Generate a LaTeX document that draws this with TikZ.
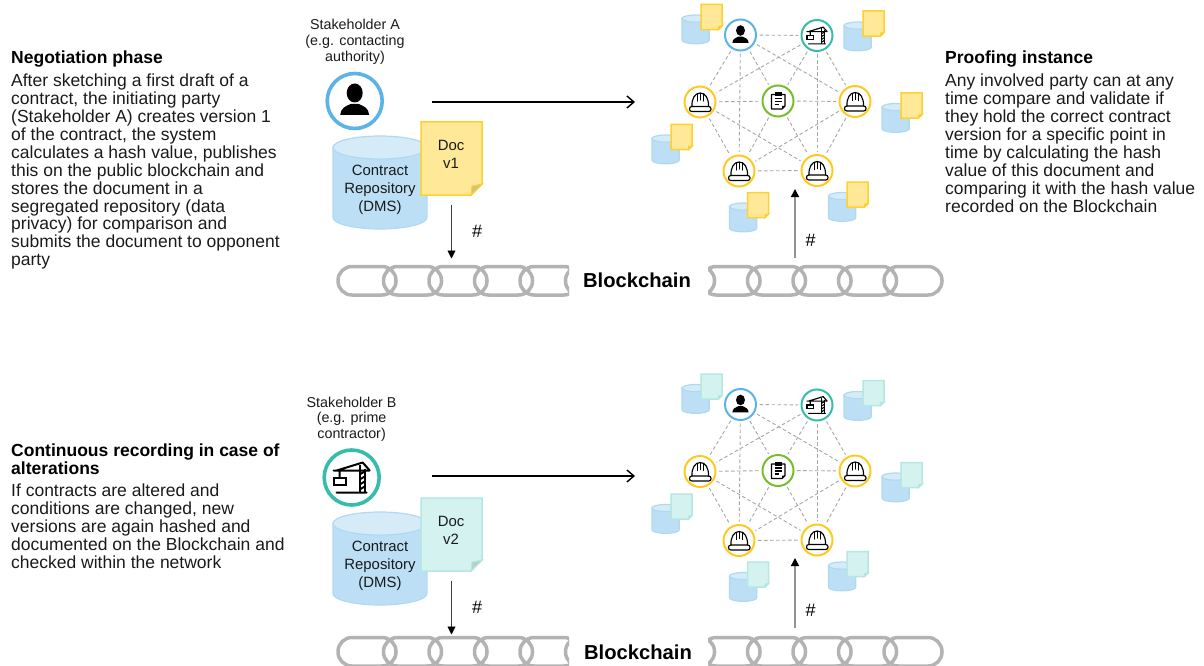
\documentclass[tikz,border=0pt]{standalone}
\usepackage{fontspec}
\setmainfont{Liberation Sans}
\usetikzlibrary{arrows.meta}
\definecolor{cylfill}{HTML}{BDDFF5}
\definecolor{cyltop}{HTML}{D6EBF8}
\definecolor{cylline}{HTML}{AFD9F3}
\definecolor{yelfill}{HTML}{FFE999}
\definecolor{yelline}{HTML}{FFD12F}
\definecolor{yelfold}{HTML}{CFC08A}
\definecolor{mintfill}{HTML}{D4F2EF}
\definecolor{mintline}{HTML}{B4E8E0}
\definecolor{mintfold}{HTML}{B5CFCC}
\definecolor{ringblue}{HTML}{5CB3E6}
\definecolor{ringteal}{HTML}{35BDAA}
\definecolor{ringyel}{HTML}{FFC91F}
\definecolor{ringgreen}{HTML}{78BE2C}
\definecolor{chaingray}{HTML}{B3B3B3}
\definecolor{meshgray}{HTML}{A6A6A6}
\definecolor{txt}{HTML}{1A1A1A}
\tikzset{
  x=1pt,y=-1pt,
  body/.style={anchor=north west,inner sep=0pt,align=left,text=txt,font=\fontsize{17.5}{17.95}\selectfont},
  head/.style={anchor=north west,inner sep=0pt,align=left,text=black,font=\bfseries\fontsize{17.5}{17.95}\selectfont},
  small/.style={inner sep=0pt,align=center,text=txt,font=\fontsize{14.3}{15.7}\selectfont},
  inbox/.style={inner sep=0pt,align=center,text=txt,font=\fontsize{14.9}{17.7}\selectfont},
  hash/.style={inner sep=0pt,text=black,font=\fontsize{18}{20}\selectfont},
  chainlabel/.style={inner sep=0pt,text=black,font=\bfseries\fontsize{20.2}{22}\selectfont},
  bigring/.style={circle,draw=#1,line width=3.6pt,fill=white,minimum size=55pt,inner sep=0pt},
  ring/.style={circle,draw=#1,line width=2pt,fill=white,minimum size=31pt,inner sep=0pt},
  mesh/.style={draw=meshgray,line width=0.9pt,dash pattern=on 3.5pt off 2.5pt,shorten >=2.5pt,shorten <=2.5pt},
  mainarrow/.style={draw=black,line width=1.5pt,-{Straight Barb[length=7pt,width=12pt,line width=1.4pt]}},
  downarrow/.style={draw=black!75,line width=0.9pt,-{Triangle[length=8pt,width=8pt,color=black]}},
  uparrow/.style={draw=gray!85,line width=1.5pt,-{Triangle[length=8pt,width=8pt,color=black]}},
  chainlink/.style={draw=chaingray,line width=3.5pt,rounded corners=14pt},
  iconline/.style={line width=2pt},
  cylshape/.style={draw=cylline,line width=1.2pt,fill=cylfill},
  cyltopshape/.style={draw=cylline,line width=1.2pt,fill=cyltop},
  repo/.pic={
    \path[cylshape] (0,11.5) -- (0,81.5) arc[start angle=180,end angle=360,x radius=47,y radius=-11.5] -- (94,11.5) -- cycle;
    \path[cyltopshape] (47,11.5) ellipse[x radius=47,y radius=11.5];
  },
  notepage/.pic={
    \path[draw=notel,line width=1.5pt,fill=notef] (0,0) -- (61,0) -- (61,62) -- (50,73) -- (0,73) -- cycle;
    \path[draw=notel,line width=1pt,fill=notefold] (61.5,62) -- (51,64) -- (50,73) -- cycle;
  },
  personicon/.pic={
    \fill[black] (0,-8) ellipse[x radius=8,y radius=9.5];
    \fill[black] (-14.5,14) .. controls (-14,7) and (-9,5) .. (-4,3) -- (4,3) .. controls (9,5) and (14,7) .. (14.5,14) -- cycle;
  },
  craneicon/.pic={
    \draw[iconline,line cap=round,line join=round,draw=black]
      (-18,-7) -- (18,-7) (-15,-7) -- (11,-15) -- (18,-7) (-15,15) -- (15,15)
      (-12,-7) -- (-12,0);
    \draw[iconline,draw=black] (-18,0) rectangle (-6,7);
    \draw[iconline,draw=black] (8,-13) -- (8,15) (13,-9) -- (13,15);
    \foreach \yy in {-6,-1,4,9} \draw[iconline,draw=black] (8,\yy+3) -- (13,\yy);
  },
  haticon/.pic={
    \draw[iconline,draw=black,line join=round,line cap=round]
      (-8,4.5) .. controls (-8.5,-3.5) and (-5,-9) .. (0.2,-9) .. controls (5.5,-9) and (8.8,-3.5) .. (8.5,4.5);
    \draw[iconline,draw=black,line cap=round] (-2.8,-8) -- (-2.8,-1) (3.2,-8) -- (3.2,-1) (0.2,-8.5) -- (0.2,-2);
    \draw[iconline,draw=black,rounded corners=2.3pt] (-10.5,4.5) rectangle (11,9.5);
  },
  clipicon/.pic={
    \draw[iconline,draw=black,line join=round] (-6.5,-6.5) -- (7,-6.5) -- (7,5) -- (4,8) -- (-6.5,8) -- cycle;
    \fill[black] (-3,-8.5) rectangle (3.5,-5);
    \draw[iconline,draw=black] (-3.5,-2.5) -- (4,-2.5) (-3.5,0.5) -- (4,0.5) (-3.5,3.5) -- (1,3.5);
    \fill[black] (4,8) -- (7,5) -- (4,5) -- cycle;
  },
}
\newcommand{\minirepo}[4]{% cyl x, cyl y, note x, note y
  \pic[xscale=.29,yscale=.31] at (#1,#2) {repo};
  \pic[scale=.345] at (#3,#4) {notepage};
}
\newcommand{\network}[1]{%
  \begin{scope}[name prefix=#1-]
  \node[ring=ringblue]  (p) at (740.5,35) {};
  \node[ring=ringteal]  (c) at (817,35.5) {};
  \node[ring=ringyel]   (l) at (700,102) {};
  \node[ring=ringgreen] (m) at (778,101) {};
  \node[ring=ringyel]   (r) at (855,101.5) {};
  \node[ring=ringyel]   (a) at (739,171) {};
  \node[ring=ringyel]   (b) at (817,170.5) {};
  \foreach \u/\v in {p/c,p/l,p/m,p/r,p/a,c/l,c/m,c/r,c/b,l/m,l/a,l/b,m/r,m/a,m/b,r/a,r/b,a/b}
    \path[mesh] (\u) -- (\v);
  \begin{scope}[iconline/.style={line width=1.15pt}]
  \pic[scale=.56] at (p) {personicon};
  \pic[scale=.56] at (c) {craneicon};
  \pic at (l) {haticon};
  \pic at (r) {haticon};
  \pic at (a) {haticon};
  \pic at (b) {haticon};
  \pic at (m) {clipicon};
  \end{scope}
  \minirepo{682}{15}{701}{4.5}
  \minirepo{844}{22}{863}{11}
  \minirepo{882}{103.5}{901}{93}
  \minirepo{652}{135}{671}{124.5}
  \minirepo{729.5}{203}{747.5}{192.5}
  \minirepo{828.5}{192.5}{847}{182}
  \end{scope}
}
\newcommand{\chainrow}[1]{%
  \begin{scope}[yshift=-#1pt]
  \clip (330,255) rectangle (569,310) (708,255) rectangle (950,310);
  \foreach \xx in {338,383.5,429,474.5,520,565.5,656.5,702,747.5,793,838.5,884}
    \draw[chainlink] (\xx,266.5) rectangle ++(58,28.5);
  \end{scope}
}
\begin{document}
\begin{tikzpicture}
\useasboundingbox (0,0) rectangle (1204,666);

% texts
\node[head] (t1h) at (11,51) {Negotiation phase};
\node[body] (t1) at (11,73.5) {After sketching a first draft of a\\contract, the initiating party\\(Stakeholder A) creates version 1\\of the contract, the system\\calculates a hash value, publishes\\this on the public blockchain and\\stores the document in a\\segregated repository (data\\privacy) for comparison and\\submits the document to opponent\\party};
\node[head] (t2h) at (945,51) {Proofing instance};
\node[body] (t2) at (945,73.5) {Any involved party can at any\\time compare and validate if\\they hold the correct contract\\version for a specific point in\\time by calculating the hash\\value of this document and\\comparing it with the hash value\\recorded on the Blockchain};
\node[head] (t3h) at (11,444) {Continuous recording in case of\\alterations};
\node[body] (t3) at (11,484) {If contracts are altered and\\conditions are changed, new\\versions are again hashed and\\documented on the Blockchain and\\checked within the network};

% first row
\node[small] (sa) at (355,42) {Stakeholder A\\(e.g. contacting\\authority)};
\node[bigring=ringblue] (ua) at (354.7,101) {};
\pic at (ua) {personicon};
\pic at (333,136) {repo};
\node[inbox] (ra) at (380,190) {Contract\\Repository\\(DMS)};
\colorlet{notef}{yelfill}\colorlet{notel}{yelline}\colorlet{notefold}{yelfold}
\pic at (421,122) {notepage};
\node[inbox] (da) at (451,154.5) {Doc\\v1};
\network{na}

\coordinate (a1) at (432,102);
\coordinate (a2) at (635,102);
\draw[mainarrow] (a1) -- (a2);
\coordinate (a3) at (451.5,205);
\coordinate (a4) at (451.5,258.5);
\draw[downarrow] (a3) -- (a4);
\node[hash] (ha) at (477,231) {\#};
\coordinate (a5) at (795,258);
\coordinate (a6) at (795,189);
\draw[uparrow] (a5) -- (a6);
\node[hash] (hb) at (810.5,240) {\#};
\chainrow{0}
\node[chainlabel] (ba) at (637,280.5) {Blockchain};

% second row
\node[small] (sb) at (351.6,419) {Stakeholder B\\(e.g. prime\\contractor)};
\node[bigring=ringteal] (ub) at (351.7,477.5) {};
\pic at (ub) {craneicon};
\pic at (333,512) {repo};
\node[inbox] (rb) at (380,566) {Contract\\Repository\\(DMS)};
\colorlet{notef}{mintfill}\colorlet{notel}{mintline}\colorlet{notefold}{mintfold}
\pic at (421,498) {notepage};
\node[inbox] (db) at (451,530.5) {Doc\\v2};
\begin{scope}[yshift=-369.5pt]
\network{nb}
\end{scope}

\coordinate (b1) at (432,476);
\coordinate (b2) at (635,476);
\draw[mainarrow] (b1) -- (b2);
\coordinate (b3) at (451.5,581);
\coordinate (b4) at (451.5,634.5);
\draw[downarrow] (b3) -- (b4);
\node[hash] (hc) at (477,607) {\#};
\coordinate (b5) at (795,628);
\coordinate (b6) at (795,558);
\draw[uparrow] (b5) -- (b6);
\node[hash] (hd) at (810.5,610) {\#};
\chainrow{371}
\node[chainlabel] (bb) at (638,652) {Blockchain};
\end{tikzpicture}
\end{document}
